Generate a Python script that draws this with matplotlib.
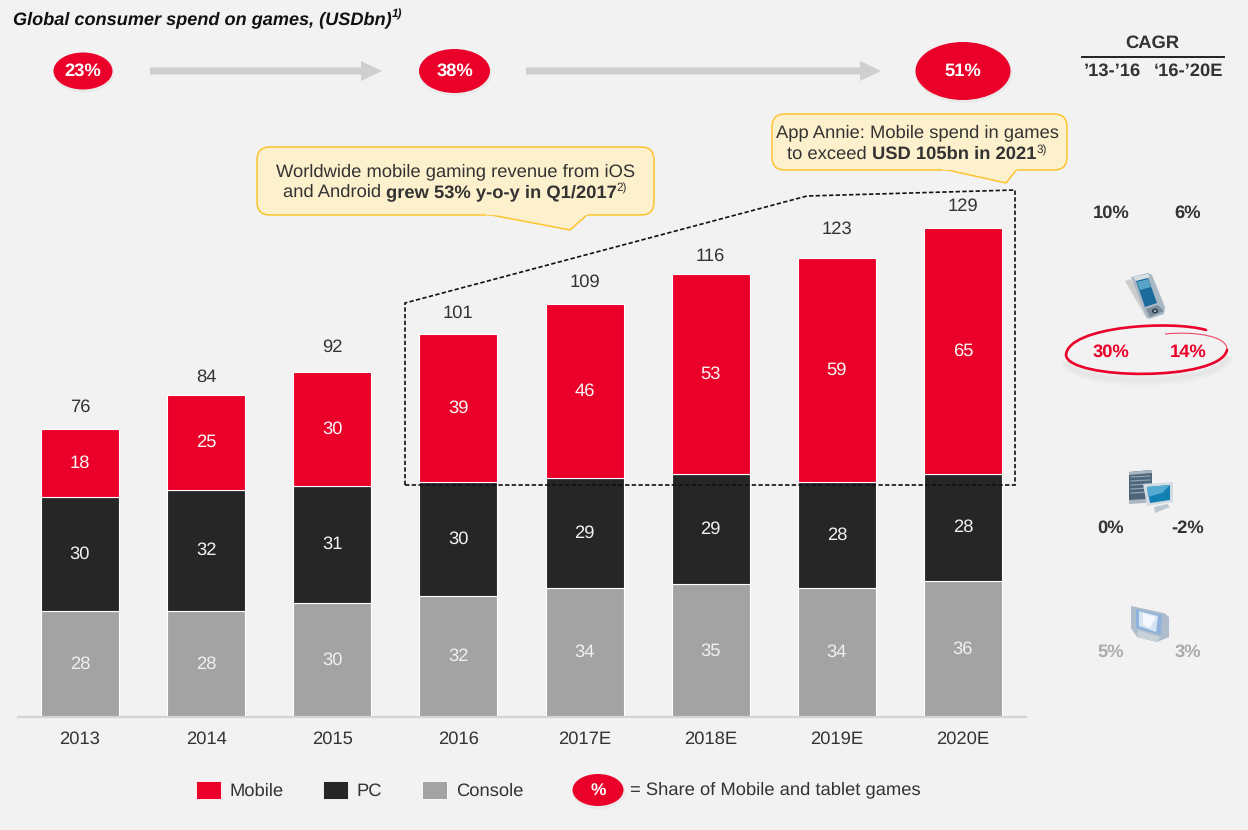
import matplotlib
matplotlib.use("Agg")
import matplotlib.pyplot as plt
from matplotlib.patches import Ellipse, Rectangle, FancyBboxPatch, Polygon, PathPatch
from matplotlib.path import Path

plt.rcParams["font.family"] = ["Liberation Sans", "DejaVu Sans"]
plt.rcParams["text.hinting"] = "no_hinting"
plt.rcParams["text.hinting_factor"] = 8

# Spend per segment, USD bn
years = ["2013", "2014", "2015", "2016", "2017E", "2018E", "2019E", "2020E"]
console = [28, 28, 30, 32, 34, 35, 34, 36]
pc = [30, 32, 31, 30, 29, 29, 28, 28]
mobile = [18, 25, 30, 39, 46, 53, 59, 65]
totals = [76, 84, 92, 101, 109, 116, 123, 129]

# Mobile share bubbles and growth rates
share_labels = ["23%", "38%", "51%"]
cagr_periods = ["\u201913-\u201916", "\u201816-\u201920E"]
cagr_total = ["10%", "6%"]
cagr_mobile = ["30%", "14%"]
cagr_pc = ["0%", "-2%"]
cagr_console = ["5%", "3%"]

RED = "#ea0029"
DARK = "#262626"
GREY = "#a3a3a3"
INK = "#333333"
BG = "#f2f2f2"
CALL_FILL = "#fdf0cd"
CALL_EDGE = "#fcc42e"
FS = 13.2

W, H = 1248, 830
fig = plt.figure(figsize=(W / 100, H / 100), dpi=100, facecolor=BG)

# Bar chart axes
PX_STEP = 126.14
PX_X0 = 80
PX_UNIT = 3.79
left, right, base, top = 18, 1026, 717, 190
ax = fig.add_axes([left / W, 1 - base / H, (right - left) / W, (base - top) / H])
ax.set_facecolor("none")
ax.set_xlim((left - PX_X0) / PX_STEP, (right - PX_X0) / PX_STEP)
ax.set_ylim(0, (base - top) / PX_UNIT)
xs = list(range(len(years)))
bar_w = 78 / PX_STEP
stack_base = [0] * len(years)
for values, colour, text_colour in [(console, GREY, "#f0f0f0"), (pc, DARK, "#f2f2f2"), (mobile, RED, "#f7f7f7")]:
    ax.bar(xs, values, bar_w, bottom=stack_base, color=colour, edgecolor="white", linewidth=0.8, zorder=2)
    for x, b, v in zip(xs, stack_base, values):
        ax.text(x, b + v / 2, str(v), ha="center", va="center", fontsize=FS, color=text_colour, zorder=3)
    stack_base = [b + v for b, v in zip(stack_base, values)]
for x, t in zip(xs, totals):
    ax.annotate(str(t), (x, t), xytext=(0, 15.5), textcoords="offset points", ha="center", va="center",
                fontsize=FS, color=INK)
for side in ("top", "left", "right"):
    ax.spines[side].set_visible(False)
ax.spines["bottom"].set_color("#d4d4d4")
ax.spines["bottom"].set_linewidth(1.6)
ax.set_yticks([])
ax.set_xticks(xs, years, fontsize=FS, color=INK)
ax.tick_params(axis="x", length=0, pad=10)

# Overlay in figure pixels for annotations, y pointing down
ov = fig.add_axes([0, 0, 1, 1])
ov.set_xlim(0, W)
ov.set_ylim(H, 0)
ov.axis("off")
ov.patch.set_alpha(0)


def label(x, y, s, size=FS, weight="normal", color=INK, ha="center", style="normal", z=6):
    return ov.text(x, y, s, fontsize=size, fontweight=weight, color=color, ha=ha, va="center",
                   fontstyle=style, zorder=z)


def runs(cx, baseline, parts, style="normal", color=INK):
    """Write differently styled pieces on one baseline, centred on cx."""
    renderer = fig.canvas.get_renderer()
    items = []
    for s, weight, size, rise in parts:
        t = ov.text(0, baseline - rise, s, fontsize=size, fontweight=weight, color=color, ha="left",
                    va="baseline", fontstyle=style, zorder=6)
        items.append((t, t.get_window_extent(renderer).width))
    x = cx - sum(w for _, w in items) / 2
    for t, w in items:
        t.set_x(x)
        x += w


def bubble(cx, cy, w, h, s, size=FS):
    ov.add_patch(Ellipse((cx + 1, cy + 2), w + 2, h + 2, fc="#000000", ec="none", alpha=0.03, zorder=3))
    ov.add_patch(Ellipse((cx, cy), w, h, fc=RED, ec="none", zorder=4))
    label(cx, cy + 0.5, s, size=size, weight="bold", color="white")


def arrow(x0, x1, y):
    ov.add_patch(Polygon([(x0, y - 3.5), (x1 - 21, y - 3.5), (x1 - 21, y - 10), (x1, y), (x1 - 21, y + 10),
                          (x1 - 21, y + 3.5), (x0, y + 3.5)], closed=True, fc="#cfcfcf", ec="none", zorder=3))


def callout(x0, y0, x1, y1, tail):
    r = 13
    ov.add_patch(FancyBboxPatch((x0 + r, y0 + r), x1 - x0 - 2 * r, y1 - y0 - 2 * r,
                                boxstyle=f"round,pad={r},rounding_size={r}",
                                fc=CALL_FILL, ec=CALL_EDGE, lw=1.1, zorder=4))
    tip = tail[1]
    ov.add_patch(Polygon([(tail[0], y1 - 1), tip, (tail[2], y1 - 1)], closed=False, fc=CALL_FILL, ec=CALL_EDGE,
                         lw=1.1, zorder=5))
    ov.plot([tail[0] + 1, tail[2] - 1], [y1 - 0.6, y1 - 0.6], color=CALL_FILL, lw=1.6, zorder=5.5)


# Title
runs(208, 24, [("Global consumer spend on games, (USDbn)", "bold", 13.1, 0), ("1)", "bold", 8.5, 6)],
     style="italic", color="#111111")

# Mobile share strip
bubble(83, 71, 59, 37, share_labels[0])
bubble(454.5, 71, 71, 44, share_labels[1])
bubble(963, 71, 95, 58, share_labels[2])
arrow(150, 382, 71)
arrow(526, 881, 71)

# Forecast highlight outline
ov.add_patch(Polygon([(405, 485), (405, 303), (807, 196), (1015, 190), (1015, 485)], closed=True, fc="none",
                     ec="#111111", lw=1.2, ls=(0, (2.6, 1.4)), zorder=5))

# Callouts
callout(257, 147, 654, 215, (486, (570, 230), 588))
runs(455.5, 176, [("Worldwide mobile gaming revenue from iOS", "normal", FS, 0)])
runs(455, 197, [("and Android ", "normal", FS, 0), ("grew 53% y-o-y in Q1/2017", "bold", FS, 0),
                ("2)", "normal", 8.5, 5)])
callout(772, 114, 1067, 170, (943, (1006, 183), 1017))
runs(917, 137, [("App Annie: Mobile spend in games", "normal", FS, 0)])
runs(917, 159, [("to exceed ", "normal", FS, 0), ("USD 105bn in 2021", "bold", FS, 0), ("3)", "normal", 8.5, 5)])

# CAGR table
label(1152, 43, "CAGR", weight="bold")
ov.plot([1082, 1224], [57, 57], color="#222222", lw=1.4, zorder=5)
label(1112, 71, cagr_periods[0], weight="bold")
label(1188, 71, cagr_periods[1], weight="bold")
CAGR_X = [1111, 1188]
for row, y, colour in [(cagr_total, 213, INK), (cagr_mobile, 352, RED), (cagr_pc, 528, INK), (cagr_console, 652, "#ababab")]:
    for x, s in zip(CAGR_X, row):
        label(x, y, s, weight="bold", color=colour)

# Hand-drawn ring around the mobile rates
ring = [(1206, 330), (1172, 320), (1068, 326), (1066, 355), (1068, 380), (1220, 382), (1227, 350),
        (1228, 336), (1195, 331), (1165, 334)]
ring_codes = [Path.MOVETO] + [Path.CURVE4] * 9
for width, alpha in [(9, 0.012), (6, 0.015), (3, 0.02)]:
    lower = [(x + 1, y + 6) for x, y in ring[3:7]]
    ov.add_patch(PathPatch(Path(lower, [Path.MOVETO] + [Path.CURVE4] * 3), fc="none", ec="#000000", lw=width,
                           alpha=alpha, zorder=4))
ov.add_patch(PathPatch(Path(ring[:7], ring_codes[:7]), fc="none", ec=RED, lw=1.9, capstyle="round", zorder=5))
ov.add_patch(PathPatch(Path(ring[6:], [Path.MOVETO] + ring_codes[7:]), fc="none", ec=RED, lw=0.8, alpha=0.7, zorder=5))


def poly(points, fc, z=5, ec="none", lw=0.0, alpha=1.0):
    ov.add_patch(Polygon(points, closed=True, fc=fc, ec=ec, lw=lw, alpha=alpha, zorder=z))


# Handset icon
poly([(1125, 281), (1131, 279), (1150, 316), (1147, 319)], "#c4c4c4", alpha=0.8)
poly([(1131, 277), (1148, 273), (1152, 275), (1165, 307), (1164, 314), (1149, 319), (1146, 316)], "#a9b8c6")
poly([(1133, 277), (1148, 274), (1150, 277), (1136, 281)], "#d8e0e6", z=6)
poly([(1136, 281), (1148, 278), (1157, 303), (1145, 307)], "#1b6a9c", z=6)
poly([(1137, 282), (1148, 279), (1151, 287), (1140, 290)], "#5aa3c8", z=7)
poly([(1146, 309), (1158, 305), (1164, 311), (1150, 317)], "#7d8c99", z=6)
ov.add_patch(Ellipse((1155, 311), 6, 5, fc="#2c3e50", ec="none", zorder=7))
ov.add_patch(Ellipse((1155, 311), 2.4, 2, fc="#b9c6d0", ec="none", zorder=8))

# Desktop icon
poly([(1129, 472), (1152, 470), (1152, 501), (1129, 503)], "#4e6478")
poly([(1129, 472), (1152, 470), (1152, 473), (1129, 475)], "#aab6c0", z=5.5)
for yy in (477, 481, 485, 489, 493):
    ov.plot([1131, 1150], [yy, yy - 1], color="#8ea3b4", lw=0.9, zorder=6)
poly([(1129, 500), (1146, 499), (1146, 503), (1129, 504)], "#aab6c0", z=5.5)
poly([(1143, 484), (1173, 482), (1173, 502), (1147, 506)], "#d3dce3", z=7)
poly([(1147, 487), (1170, 485), (1170, 500), (1150, 503)], "#147fb3", z=8)
poly([(1147, 487), (1170, 485), (1162, 493), (1148, 497)], "#55abd1", z=9)
poly([(1154, 507), (1167, 504), (1170, 507), (1155, 513)], "#bcc6ce", z=7)

# Console screen icon
poly([(1131, 606), (1164, 613), (1169, 617), (1169, 637), (1157, 642), (1137, 637), (1131, 628)], "#aebccb")
poly([(1136, 609), (1162, 615), (1161, 635), (1136, 628)], "#8fb2dc", z=6)
poly([(1139, 611), (1158, 616), (1156, 632), (1139, 626)], "#d6e5f4", z=7)
poly([(1143, 613), (1156, 617), (1150, 628), (1143, 625)], "#f5f9fd", z=8)
poly([(1138, 630), (1160, 637), (1157, 642), (1137, 637)], "#c9d1d9", z=6)

# Legend
for x, colour, name, tx in [(196, RED, "Mobile", 229), (323, DARK, "PC", 356), (422, GREY, "Console", 456)]:
    ov.add_patch(Rectangle((x, 781), 25, 18, fc=colour, ec="white", lw=0.6, zorder=5))
    label(tx, 791, name, ha="left")
bubble(598, 790, 51, 32, "%", size=12.5)
label(630, 790, "= Share of Mobile and tablet games", ha="left")

fig.savefig("out.png", dpi=100, facecolor=BG)
